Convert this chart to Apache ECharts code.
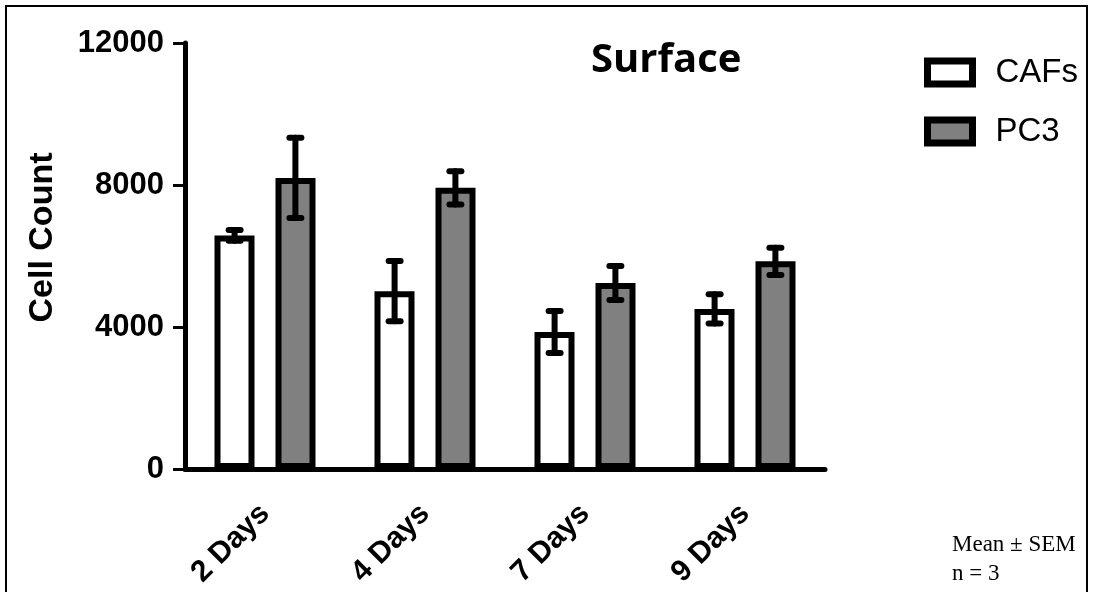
<!DOCTYPE html>
<html>
<head>
<meta charset="utf-8">
<script src="https://cdn.jsdelivr.net/npm/echarts@6/dist/echarts.min.js"></script>
<style>
  html, body { margin: 0; padding: 0; background: #fff; }
  #chart { width: 1093px; height: 592px; }
</style>
</head>
<body>
<div id="chart"></div>
<script>
const categories = ['2 Days', '4 Days', '7 Days', '9 Days'];
const cafMean = [6580, 5010, 3860, 4510];
const cafSem = [150, 850, 590, 410];
const pc3Mean = [8200, 7920, 5240, 5850];
const pc3Sem = [1130, 470, 480, 385];
const yTicks = { min: 0, max: 12000, interval: 4000 };

const chart = echarts.init(document.getElementById('chart'));

// error bars, drawn over the bars, shifted to each bar's slot
const errorSeries = (means, sems, side) => ({
    type: 'custom',
    z: 5,
    silent: true,
    data: means.map((m, i) => [i, m, sems[i]]),
    renderItem: (params, api) => {
        const i = api.value(0);
        const m = api.value(1);
        const e = api.value(2);
        const off = api.size([1, 0])[0] * 0.19 * side;
        const top = api.coord([i, m + e]);
        const bot = api.coord([i, m - e]);
        const x = top[0] + off;
        const cap = 6;
        const style = { stroke: '#000', lineWidth: 6, lineCap: 'round' };
        return {
            type: 'group',
            children: [
                { type: 'line', shape: { x1: x, y1: top[1], x2: x, y2: bot[1] }, style },
                { type: 'line', shape: { x1: x - cap, y1: top[1], x2: x + cap, y2: top[1] }, style },
                { type: 'line', shape: { x1: x - cap, y1: bot[1], x2: x + cap, y2: bot[1] }, style }
            ]
        };
    }
});

chart.setOption({
    animation: false,
    title: {
        text: 'Surface',
        left: 591,
        top: 41,
        padding: 0,
        textStyle: { fontFamily: 'Open Sans', fontWeight: 'bold', fontSize: 40, color: '#000' }
    },
    legend: {
        data: ['CAFs', 'PC3'],
        orient: 'vertical',
        left: 924,
        top: 56,
        padding: 0,
        itemWidth: 45,
        itemHeight: 23,
        itemGap: 26,
        icon: 'rect',
        itemStyle: { borderWidth: 7, borderColor: '#000' },
        textStyle: { fontFamily: 'Liberation Sans', fontSize: 33, color: '#000', padding: [0, 0, 0, 18] }
    },
    grid: { left: 185, right: 268, top: 43, bottom: 123 },
    xAxis: {
        type: 'category',
        data: categories,
        axisLine: { lineStyle: { color: '#000', width: 5 } },
        axisTick: { alignWithLabel: true, length: 11, lineStyle: { color: '#000', width: 3 } },
        axisLabel: {
            rotate: 45,
            margin: 40,
            color: '#000',
            fontFamily: 'Liberation Sans',
            fontWeight: 'bold',
            fontSize: 30
        }
    },
    yAxis: {
        type: 'value',
        min: yTicks.min,
        max: yTicks.max,
        interval: yTicks.interval,
        name: 'Cell Count',
        nameLocation: 'middle',
        nameGap: 125,
        nameTextStyle: {
            fontFamily: 'Liberation Sans', fontWeight: 'bold', fontSize: 34, color: '#000',
            padding: [0, 0, 0, 37]
        },
        splitLine: { show: false },
        axisLine: { show: true, lineStyle: { color: '#000', width: 5 } },
        axisTick: { show: true, length: 12, lineStyle: { color: '#000', width: 3 } },
        axisLabel: {
            margin: 21,
            color: '#000',
            fontFamily: 'Liberation Sans',
            fontWeight: 'bold',
            fontSize: 31,
            formatter: (v) => String(v)
        }
    },
    series: [
        {
            name: 'CAFs',
            type: 'bar',
            data: cafMean,
            barWidth: 40,
            barGap: '52.5%',
            itemStyle: { color: '#fff', borderColor: '#000', borderWidth: 6 }
        },
        {
            name: 'PC3',
            type: 'bar',
            data: pc3Mean,
            barWidth: 40,
            itemStyle: { color: '#808080', borderColor: '#000', borderWidth: 6 }
        },
        errorSeries(cafMean, cafSem, -1),
        errorSeries(pc3Mean, pc3Sem, 1)
    ],
    graphic: [
        {
            type: 'rect',
            shape: { x: 6, y: 6, width: 1081, height: 600 },
            style: { fill: 'none', stroke: '#000', lineWidth: 2 }
        },
        {
            type: 'text',
            left: 952,
            top: 530,
            style: {
                text: 'Mean ± SEM\nn = 3',
                fontFamily: 'Liberation Serif',
                fontSize: 23,
                lineHeight: 29,
                fill: '#000'
            }
        }
    ]
});
</script>
</body>
</html>
